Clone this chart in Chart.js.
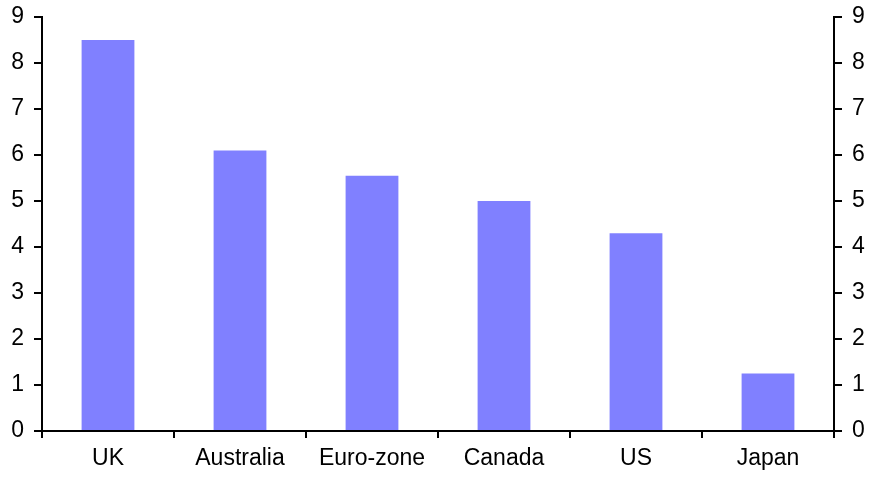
<!DOCTYPE html>
<html>
<head>
<meta charset="utf-8">
<script src="https://cdn.jsdelivr.net/npm/chart.js@4"></script>
<style>
  html, body { margin: 0; padding: 0; background: #fff; }
  #wrap { width: 873px; height: 481px; }
</style>
</head>
<body>
<div id="wrap"><canvas id="barChart" width="873" height="481"></canvas></div>
<script>
const categories = ['UK', 'Australia', 'Euro-zone', 'Canada', 'US', 'Japan'];
const values = [8.5, 6.1, 5.55, 5.0, 4.3, 1.25];
const yTicks = [0, 1, 2, 3, 4, 5, 6, 7, 8, 9];

const FONT = { family: '"Liberation Sans", Arial, sans-serif', size: 23 };

const ctx = document.getElementById('barChart').getContext('2d');

const yAxis = (position, width) => ({
  position: position,
  min: 0,
  max: 9,
  afterBuildTicks: axis => { axis.ticks = yTicks.map(v => ({ value: v })); },
  afterFit: axis => {
    axis.width = width;
    axis.paddingTop = 0;
    axis.paddingBottom = 0;
  },
  border: { display: true, color: '#000', width: 2 },
  grid: { drawOnChartArea: false, drawTicks: true, tickLength: 8, color: '#000', lineWidth: 2 },
  ticks: { color: '#000', font: FONT, padding: 10 }
});

const chart = new Chart(ctx, {
  type: 'bar',
  data: {
    labels: categories,
    datasets: [{
      data: values,
      backgroundColor: '#8080ff',
      borderWidth: 0,
      categoryPercentage: 1,
      barPercentage: 0.4,
      yAxisID: 'y'
    }]
  },
  options: {
    responsive: false,
    animation: false,
    layout: { padding: { top: 17, left: 0, right: 0, bottom: 0 } },
    plugins: {
      legend: { display: false },
      tooltip: { enabled: false }
    },
    scales: {
      x: {
        offset: true,
        afterFit: axis => { axis.height = 50; },
        border: { display: true, color: '#000', width: 2 },
        grid: { offset: true, drawOnChartArea: false, drawTicks: true, tickLength: 7, color: '#000', lineWidth: 2 },
        ticks: { color: '#000', font: FONT, padding: 7, maxRotation: 0 }
      },
      y: yAxis('left', 42),
      y2: yAxis('right', 39)
    }
  }
});
</script>
</body>
</html>
